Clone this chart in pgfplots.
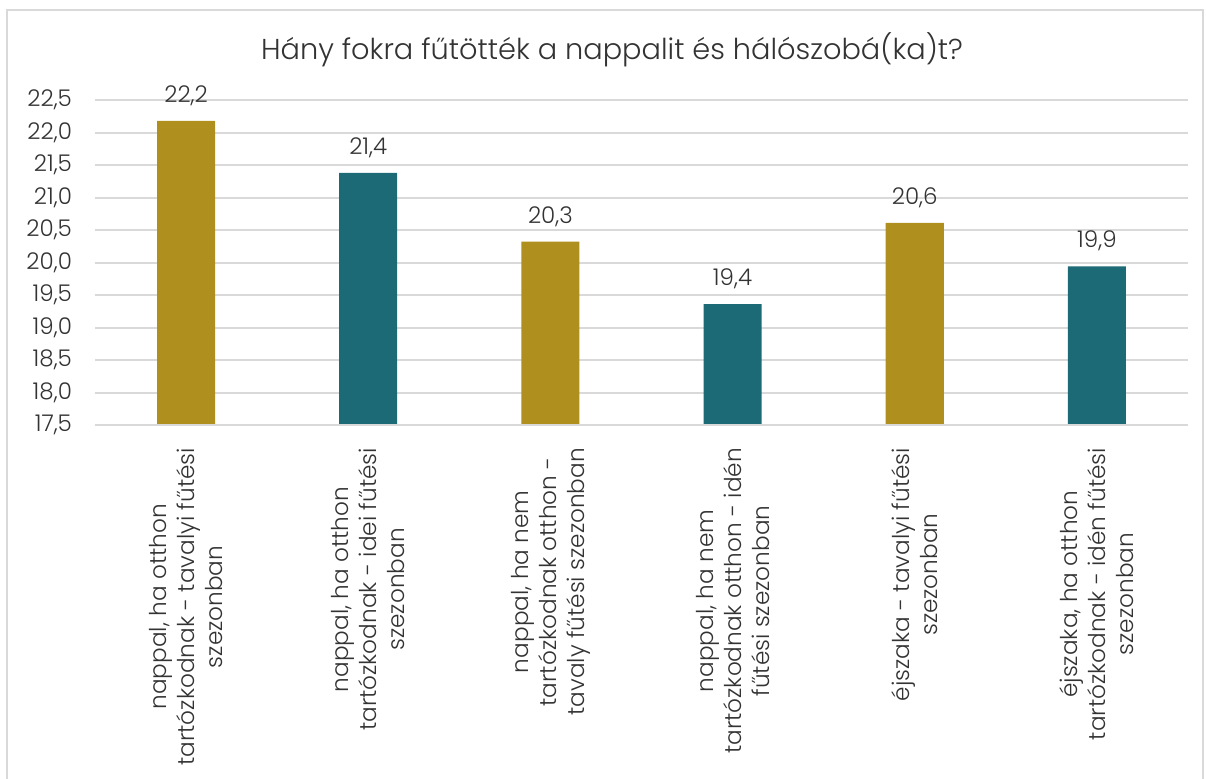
\documentclass[border=0pt]{standalone}
\usepackage{pgfplots}
\pgfplotsset{compat=1.18}
\usepackage{fontspec}
\setmainfont{Poppins}[UprightFont=* Light]
\definecolor{gold}{HTML}{AF8F1E}
\definecolor{teal}{HTML}{1C6A75}
\definecolor{gridgr}{HTML}{D9D9D9}
\definecolor{txt}{HTML}{333333}
\begin{document}
\begin{tikzpicture}
\useasboundingbox (-47.5pt,-176.5pt) rectangle (555.5pt,212.5pt);
\begin{axis}[
    scale only axis,
    width=546.5pt, height=162.5pt,
    ymin=17.5, ymax=22.5,
    ytick={17.5,18,...,22.5},
    xmin=-0.5, xmax=5.5,
    xtick={0,1,2,3,4,5},
    xticklabels={
      {nappal, ha otthon\\tartózkodnak - tavalyi fűtési\\szezonban},
      {nappal, ha otthon\\tartózkodnak - idei fűtési\\szezonban},
      {nappal, ha nem\\tartózkodnak otthon -\\tavaly fűtési szezonban},
      {nappal, ha nem\\tartózkodnak otthon - idén\\fűtési szezonban},
      {éjszaka - tavalyi fűtési\\szezonban},
      {éjszaka, ha otthon\\tartózkodnak - idén fűtési\\szezonban}},
    xticklabel style={rotate=90, anchor=east, align=center, font=\fontsize{11.6}{14}\selectfont, text=txt, xshift=-8pt},
    yticklabel style={font=\fontsize{11.5}{13}\selectfont, text=txt, xshift=-8pt},
    /pgf/number format/.cd, fixed, fixed zerofill, precision=1, use comma, assume math mode=true,
    /pgfplots/.cd,
    ymajorgrids,
    grid style={gridgr, line width=1pt},
    axis line style={draw=none},
    axis x line*=bottom,
    major tick length=0pt,
    ybar, bar width=29pt, bar shift=0pt,
    nodes near coords,
    every node near coord/.append style={font=\fontsize{11.5}{13}\selectfont, text=txt, yshift=4pt},
    clip=false,
]
\addplot[fill=gold, draw=none] coordinates {(0,22.18) (2,20.32) (4,20.61)};
\addplot[fill=teal, draw=none] coordinates {(1,21.38) (3,19.36) (5,19.94)};
\draw[gridgr, line width=1pt] (axis cs:-0.5,17.5) -- (axis cs:5.5,17.5);
\end{axis}
\node[font=\fontsize{14.4}{17}\selectfont, text=txt] at (258.5pt,187.5pt) {Hány fokra fűtötték a nappalit és hálószobá(ka)t?};
\draw[gridgr, line width=0.8pt] (-44pt,-180pt) rectangle (554pt,207.5pt);
\end{tikzpicture}
\end{document}
